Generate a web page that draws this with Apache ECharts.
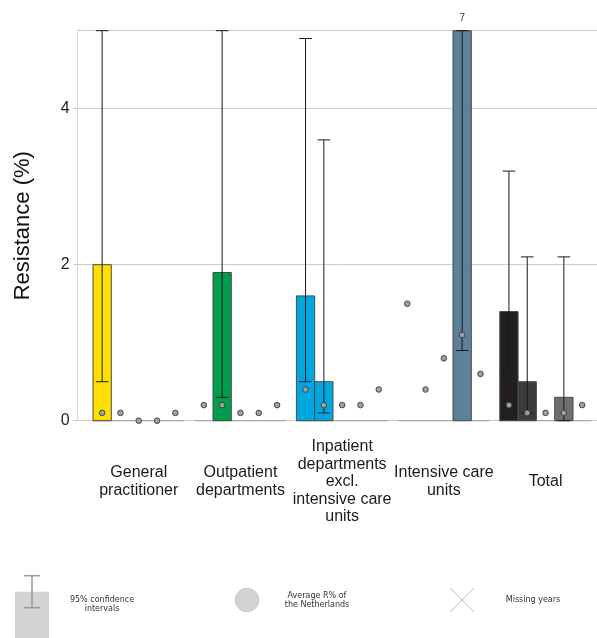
<!DOCTYPE html>
<html>
<head>
<meta charset="utf-8">
<script src="https://cdn.jsdelivr.net/npm/echarts@6/dist/echarts.min.js"></script>
<style>
  html, body { margin: 0; padding: 0; background: #ffffff; }
  #chart { width: 597px; height: 638px; }
</style>
</head>
<body>
<div id="chart"></div>
<script>
// Care settings shown along the x axis
const categories = [
  'General\npractitioner',
  'Outpatient\ndepartments',
  'Inpatient\ndepartments\nexcl.\nintensive care\nunits',
  'Intensive care\nunits',
  'Total'
];

// Resistance (%) for five consecutive years per setting
const resGeneralPractitioner = [2.0, 0, 0, 0, 0];
const resOutpatient          = [0, 1.9, 0, 0, 0];
const resInpatient           = [1.6, 0.5, 0, 0, 0];
const resIntensiveCare       = [0, 0, 0, 7, 0];
const resTotal               = [1.4, 0.5, 0, 0.3, 0];

// 95% confidence intervals [lower, upper]; null where none is drawn
const ciGeneralPractitioner = [[0.5, 5.0], null, null, null, null];
const ciOutpatient          = [null, [0.3, 5.0], null, null, null];
const ciInpatient           = [[0.5, 4.9], [0.1, 3.6], null, null, null];
const ciIntensiveCare       = [null, null, null, [0.9, 5.0], null];
const ciTotal               = [[0.6, 3.2], [0.1, 2.1], null, [0.0, 2.1], null];

// Average R% of the Netherlands for the same years
const avgGeneralPractitioner = [0.1, 0.1, 0, 0, 0.1];
const avgOutpatient          = [0.2, 0.2, 0.1, 0.1, 0.2];
const avgInpatient           = [0.4, 0.2, 0.2, 0.2, 0.4];
const avgIntensiveCare       = [1.5, 0.4, 0.8, 1.1, 0.6];
const avgTotal               = [0.2, 0.1, 0.1, 0.1, 0.2];

// Value axis
const yMin = 0;
const yMax = 5;
const yInterval = 2;

// Bar fills: one colour per setting, greys per year for the total
const settingColors = ['#FFDF00', '#009E4C', '#00A8E0', '#5B8299', null];
const totalColors = ['#231F20', '#3C3C3B', '#575756', '#6F6F6E', '#878787'];

const resistance = [resGeneralPractitioner, resOutpatient, resInpatient, resIntensiveCare, resTotal];
const intervals = [ciGeneralPractitioner, ciOutpatient, ciInpatient, ciIntensiveCare, ciTotal];
const averages = [avgGeneralPractitioner, avgOutpatient, avgInpatient, avgIntensiveCare, avgTotal];

const YEARS = 5;
const SLOT_SHARE = 0.9;   // part of each category band used by the year slots

const seriesData = [];
resistance.forEach((vals, c) => {
  vals.forEach((v, s) => seriesData.push([c, s, v]));
});

function clampY(v) { return Math.max(yMin, Math.min(yMax, v)); }

function renderItem(params, api) {
  const cat = api.value(0);
  const slot = api.value(1);
  const v = api.value(2);
  const band = api.size([1, 0])[0];
  const groupW = band * SLOT_SHARE;
  const slotW = groupW / YEARS;
  const base = api.coord([cat, 0]);
  const groupLeft = base[0] - groupW / 2;
  const x = groupLeft + slot * slotW;
  const cx = x + slotW / 2;
  const y0 = base[1];
  const children = [];

  if (slot === 0) {
    children.push({
      type: 'line',
      shape: { x1: groupLeft, y1: y0, x2: groupLeft + groupW, y2: y0 },
      style: { stroke: '#9a9a9a', lineWidth: 1 }
    });
  }

  if (v > 0) {
    const top = api.coord([cat, clampY(v)])[1];
    const fill = settingColors[cat] || totalColors[slot];
    children.push({
      type: 'rect',
      shape: { x: x, y: top, width: slotW, height: y0 - top },
      style: { fill: fill, stroke: '#4a4a4a', lineWidth: 1 }
    });
    if (v > yMax) {
      children.push({
        type: 'text',
        style: {
          text: String(v), x: cx, y: top - 12,
          align: 'center', verticalAlign: 'middle',
          font: '10px "Liberation Sans", Arial, sans-serif', fill: '#333333'
        }
      });
    }
  }

  const ci = intervals[cat][slot];
  if (ci) {
    const yl = api.coord([cat, clampY(ci[0])])[1];
    const yh = api.coord([cat, clampY(ci[1])])[1];
    const capHalf = 6.3;
    const st = { stroke: '#1a1a1a', lineWidth: 1 };
    children.push({ type: 'line', shape: { x1: cx, y1: yl, x2: cx, y2: yh }, style: st });
    children.push({ type: 'line', shape: { x1: cx - capHalf, y1: yl, x2: cx + capHalf, y2: yl }, style: st });
    children.push({ type: 'line', shape: { x1: cx - capHalf, y1: yh, x2: cx + capHalf, y2: yh }, style: st });
  }

  const avg = averages[cat][slot];
  if (avg !== null && avg !== undefined) {
    const ya = api.coord([cat, avg])[1];
    children.push({
      type: 'circle',
      shape: { cx: cx, cy: ya, r: 2.8 },
      style: { fill: '#a0a0a0', stroke: '#3a3a3a', lineWidth: 0.9 }
    });
  }

  return { type: 'group', children: children };
}

const chart = echarts.init(document.getElementById('chart'), null, { renderer: 'canvas' });

const legendFont = '8px "DejaVu Sans", sans-serif';

chart.setOption({
  animation: false,
  backgroundColor: '#ffffff',
  grid: [
    { left: 77.7, right: 0, top: 30.7, bottom: 217.3 },
    { left: 87.9, width: 508.5, top: 30.7, bottom: 217.3 }
  ],
  xAxis: [
    { gridIndex: 0, type: 'value', min: 0, max: 1, show: false },
    {
      gridIndex: 1, type: 'category', data: categories,
      axisLine: { show: false }, axisTick: { show: false },
      axisLabel: {
        interval: 0, margin: 61, verticalAlign: 'middle',
        fontFamily: '"Liberation Sans", Arial, sans-serif',
        fontSize: 16, lineHeight: 17.4, color: '#1a1a1a'
      }
    }
  ],
  yAxis: [
    {
      gridIndex: 0, type: 'value', min: yMin, max: yMax, interval: yInterval,
      name: 'Resistance (%)', nameLocation: 'middle', nameGap: 44,
      nameTextStyle: { fontFamily: '"Liberation Sans", Arial, sans-serif', fontSize: 22, color: '#111111' },
      axisLine: { show: true, lineStyle: { color: '#d6d6d6', width: 1 } },
      axisTick: { show: true, length: 4, lineStyle: { color: '#c8c8c8' } },
      axisLabel: {
        margin: 8, showMaxLabel: false,
        fontFamily: '"Liberation Sans", Arial, sans-serif', fontSize: 16, color: '#222222'
      },
      splitLine: { show: true, lineStyle: { color: '#cccccc', width: 1 } }
    },
    { gridIndex: 1, type: 'value', min: yMin, max: yMax, show: false }
  ],
  series: [{
    type: 'custom',
    xAxisIndex: 1, yAxisIndex: 1,
    renderItem: renderItem,
    encode: { x: 0, y: 2 },
    data: seriesData,
    clip: false
  }],
  graphic: [
    // confidence-interval key
    { type: 'rect', shape: { x: 15, y: 591.7, width: 34, height: 47 }, style: { fill: '#d3d3d3' } },
    { type: 'line', shape: { x1: 32, y1: 575.7, x2: 32, y2: 607.7 }, style: { stroke: '#9a9a9a', lineWidth: 1.5 } },
    { type: 'line', shape: { x1: 24, y1: 575.7, x2: 40, y2: 575.7 }, style: { stroke: '#9a9a9a', lineWidth: 1.5 } },
    { type: 'line', shape: { x1: 24, y1: 607.7, x2: 40, y2: 607.7 }, style: { stroke: '#9a9a9a', lineWidth: 1.5 } },
    { type: 'text', style: { text: '95% confidence\nintervals', x: 102, y: 604, align: 'center', verticalAlign: 'middle', font: legendFont, lineHeight: 9, fill: '#333333' } },
    // national average key
    { type: 'circle', shape: { cx: 247, cy: 600, r: 11.8 }, style: { fill: '#d3d3d3', stroke: '#bdbdbd', lineWidth: 0.8 } },
    { type: 'text', style: { text: 'Average R% of\nthe Netherlands', x: 317, y: 600, align: 'center', verticalAlign: 'middle', font: legendFont, lineHeight: 9, fill: '#333333' } },
    // missing-years key
    { type: 'line', shape: { x1: 450, y1: 588, x2: 474, y2: 612 }, style: { stroke: '#bdbdbd', lineWidth: 1 } },
    { type: 'line', shape: { x1: 450, y1: 612, x2: 474, y2: 588 }, style: { stroke: '#bdbdbd', lineWidth: 1 } },
    { type: 'text', style: { text: 'Missing years', x: 533, y: 600, align: 'center', verticalAlign: 'middle', font: legendFont, fill: '#333333' } }
  ]
});
</script>
</body>
</html>
